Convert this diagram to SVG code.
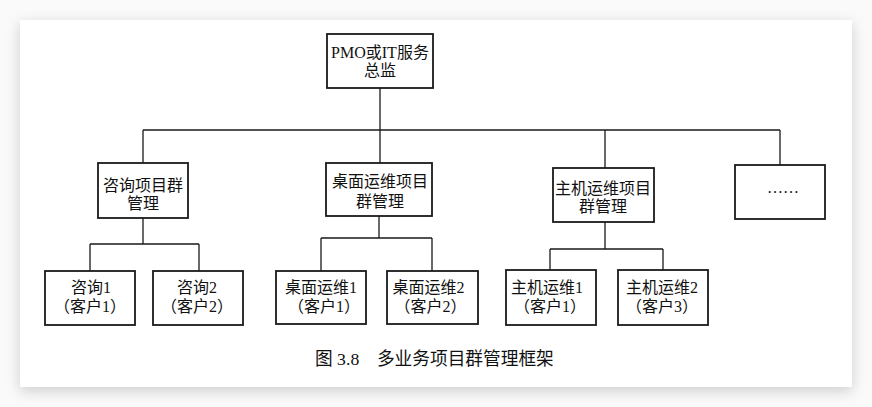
<svg xmlns="http://www.w3.org/2000/svg" width="872" height="407" viewBox="0 0 872 407">
<defs>
<filter id="shadow" x="-10%" y="-10%" width="120%" height="130%">
<feDropShadow dx="0" dy="4" stdDeviation="7" flood-color="#000" flood-opacity="0.18"/>
</filter>
<style>
.box{fill:#fff;stroke:#1a1a1a;stroke-width:1.8}
.conn{fill:none;stroke:#1a1a1a;stroke-width:1.3}
.t{font-family:"Liberation Serif","Noto Sans CJK SC",serif;font-size:16px;fill:#111;text-anchor:middle}
.cap{font-family:"Liberation Serif","Noto Sans CJK SC",serif;font-size:17.7px;fill:#111}
</style>
</defs>
<rect x="0" y="0" width="872" height="407" fill="#fafafa"/>
<rect x="20" y="20" width="832" height="367" fill="#fff" filter="url(#shadow)"/>

<g id="connectors">
<path class="conn" d="M380 88V130M143 130H780M143 130V163M380 130V163M605 130V168M780 130V165"/>
<path class="conn" d="M143 218V244M90 244H199M90 244V271M199 244V271"/>
<path class="conn" d="M379 216V238M321 238H432M321 238V271M432 238V271"/>
<path class="conn" d="M605 222V249M550 249H663M550 249V270M663 249V270"/>
</g>

<g id="top">
<rect class="box" x="327" y="34" width="106" height="54"/>
<text class="t" x="380" y="57.5">PMO或IT服务</text>
<text class="t" x="380" y="76">总监</text>
</g>

<g id="mid1">
<rect class="box" x="98" y="163" width="90" height="55"/>
<text class="t" x="143" y="191">咨询项目群</text>
<text class="t" x="143" y="209">管理</text>
</g>
<g id="mid2">
<rect class="box" x="326" y="163" width="106" height="53"/>
<text class="t" x="380" y="186.5">桌面运维项目</text>
<text class="t" x="380" y="206.5">群管理</text>
</g>
<g id="mid3">
<rect class="box" x="553" y="168" width="101" height="54"/>
<text class="t" x="603" y="194">主机运维项目</text>
<text class="t" x="603" y="212">群管理</text>
</g>
<g id="mid4">
<rect class="box" x="735" y="165" width="90" height="54"/>
<text class="t" x="783" y="193" font-family="Liberation Serif, serif">……</text>
</g>

<g id="c1">
<rect class="box" x="45" y="271" width="90" height="54"/>
<text class="t" x="91" y="292.5">咨询1</text>
<text class="t" x="90" y="311.5">（客户1）</text>
</g>
<g id="c2">
<rect class="box" x="153" y="271" width="90" height="54"/>
<text class="t" x="197" y="292.5">咨询2</text>
<text class="t" x="197" y="311.5">（客户2）</text>
</g>
<g id="c3">
<rect class="box" x="276" y="271" width="90" height="53"/>
<text class="t" x="321" y="292.5">桌面运维1</text>
<text class="t" x="324" y="311.5">（客户1）</text>
</g>
<g id="c4">
<rect class="box" x="387" y="271" width="91" height="53"/>
<text class="t" x="428.5" y="292.5">桌面运维2</text>
<text class="t" x="430.5" y="311.5">（客户2）</text>
</g>
<g id="c5">
<rect class="box" x="506" y="270" width="90" height="55"/>
<text class="t" x="547" y="292.5">主机运维1</text>
<text class="t" x="550" y="311.5">（客户1）</text>
</g>
<g id="c6">
<rect class="box" x="618" y="270" width="90" height="55"/>
<text class="t" x="662" y="292.5">主机运维2</text>
<text class="t" x="662" y="311.5">（客户3）</text>
</g>

<text class="cap" x="315" y="365" xml:space="preserve">图 3.8　多业务项目群管理框架</text>
</svg>
